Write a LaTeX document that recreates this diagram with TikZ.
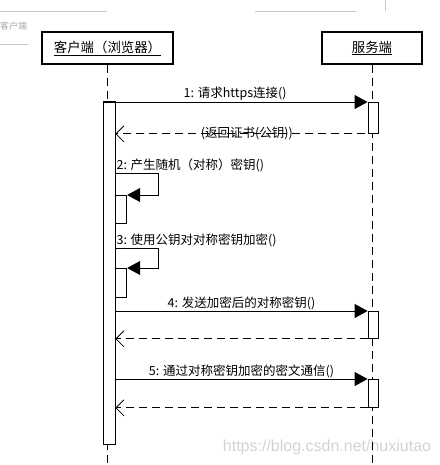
\documentclass[tikz,border=0pt]{standalone}
\usepackage{fontspec}
\setmainfont{Noto Sans CJK SC}
\newfontfamily\wmfont{Liberation Sans}
\usetikzlibrary{arrows.meta, positioning}
\definecolor{FaintGray}{HTML}{C8C8C8}
\definecolor{TabGray}{HTML}{A8A8A8}
\definecolor{MarkGray}{HTML}{D2D2D2}

\begin{document}
\begin{tikzpicture}[x=1pt, y=-1pt, font=\fontsize{12.5}{14}\selectfont,
    actor/.style={draw, line width=1.4pt, minimum height=32pt, inner sep=2pt, font=\fontsize{13.4}{15}\selectfont},
    life/.style={line width=0.8pt, dash pattern=on 8pt off 5pt},
    bar/.style={draw, fill=white, line width=0.8pt, inner sep=0pt},
    msg/.style={line width=0.8pt, -{Triangle[length=13pt, width=14pt]}},
    ret/.style={line width=0.8pt, dash pattern=on 8pt off 5pt, -{Straight Barb[length=8pt, width=16pt]}},
    lbl/.style={inner sep=1pt}]
    \useasboundingbox (0,0) rectangle (439,465);

    % Faint window edge at the top
    \draw[FaintGray] (0,11) -- (107,11);
    \draw[FaintGray] (255,11) -- (356,11);
    \draw[FaintGray] (385,0) -- (385,11);
    \draw[FaintGray] (0,44) -- (28,44);
    \node[TabGray, anchor=west, inner sep=0pt, font=\fontsize{9}{11}\selectfont] (tab) at (0,26) {客户端};

    % Watermark (behind the lifelines)
    \node[MarkGray, font=\fontsize{16}{18}\selectfont\wmfont] (mark) at (327,447) {https://blog.csdn.net/huxiutao};

    % Actors
    \node[actor, minimum width=131pt] (client) at (107.5,48) {\underline{客户端（浏览器）}};
    \node[actor, minimum width=100pt] (server) at (372,48) {\underline{服务端}};

    % Lifelines
    \draw[life] (client.south) -- (client.south |- 0,465);
    \draw[life] (server.south) -- (server.south |- 0,465);

    % Activation bars
    \node[bar, minimum width=12pt, minimum height=343pt, anchor=north] (cbar) at (109,101) {};
    \node[bar, minimum width=10pt, minimum height=31pt, anchor=north] (sbar1) at (373,102) {};
    \node[bar, minimum width=10pt, minimum height=27pt, anchor=north] (sbar4) at (373,311) {};
    \node[bar, minimum width=10pt, minimum height=28pt, anchor=north] (sbar5) at (373,379) {};
    \node[bar, minimum width=11pt, minimum height=28pt, anchor=north west] (nbar2) at (cbar.east |- 0,195) {};
    \node[bar, minimum width=11pt, minimum height=29pt, anchor=north west] (nbar3) at (cbar.east |- 0,268) {};

    % 1: request and certificate
    \draw[msg] (cbar.north west |- sbar1.north) -- node[lbl, above] (m1) {1: 请求https连接()} (sbar1.north west);
    \draw[ret] (sbar1.south east) -- node[lbl, midway] (r1) {(返回证书(公钥))} (cbar.east |- sbar1.south);

    % 2: self call
    \coordinate (loop2) at (158,173);
    \draw[msg] (cbar.east |- loop2) -- (loop2) |- (nbar2.north east);
    \node[lbl, anchor=south west] (m2) at (cbar.east |- loop2) {2: 产生随机（对称）密钥()};

    % 3: self call
    \coordinate (loop3) at (158,248);
    \draw[msg] (cbar.east |- loop3) -- (loop3) |- (nbar3.north east);
    \node[lbl, anchor=south west] (m3) at (cbar.east |- loop3) {3: 使用公钥对对称密钥加密()};

    % 4: send symmetric key
    \draw[msg] (cbar.east |- sbar4.north) -- node[lbl, above] (m4) {4: 发送加密后的对称密钥()} (sbar4.north west);
    \draw[ret] (sbar4.south west) -- (cbar.east |- sbar4.south);

    % 5: encrypted traffic
    \draw[msg] (cbar.east |- sbar5.north) -- node[lbl, above] (m5) {5: 通过对称密钥加密的密文通信()} (sbar5.north west);
    \draw[ret] (sbar5.south west) -- (cbar.east |- sbar5.south);

\end{tikzpicture}
\end{document}
